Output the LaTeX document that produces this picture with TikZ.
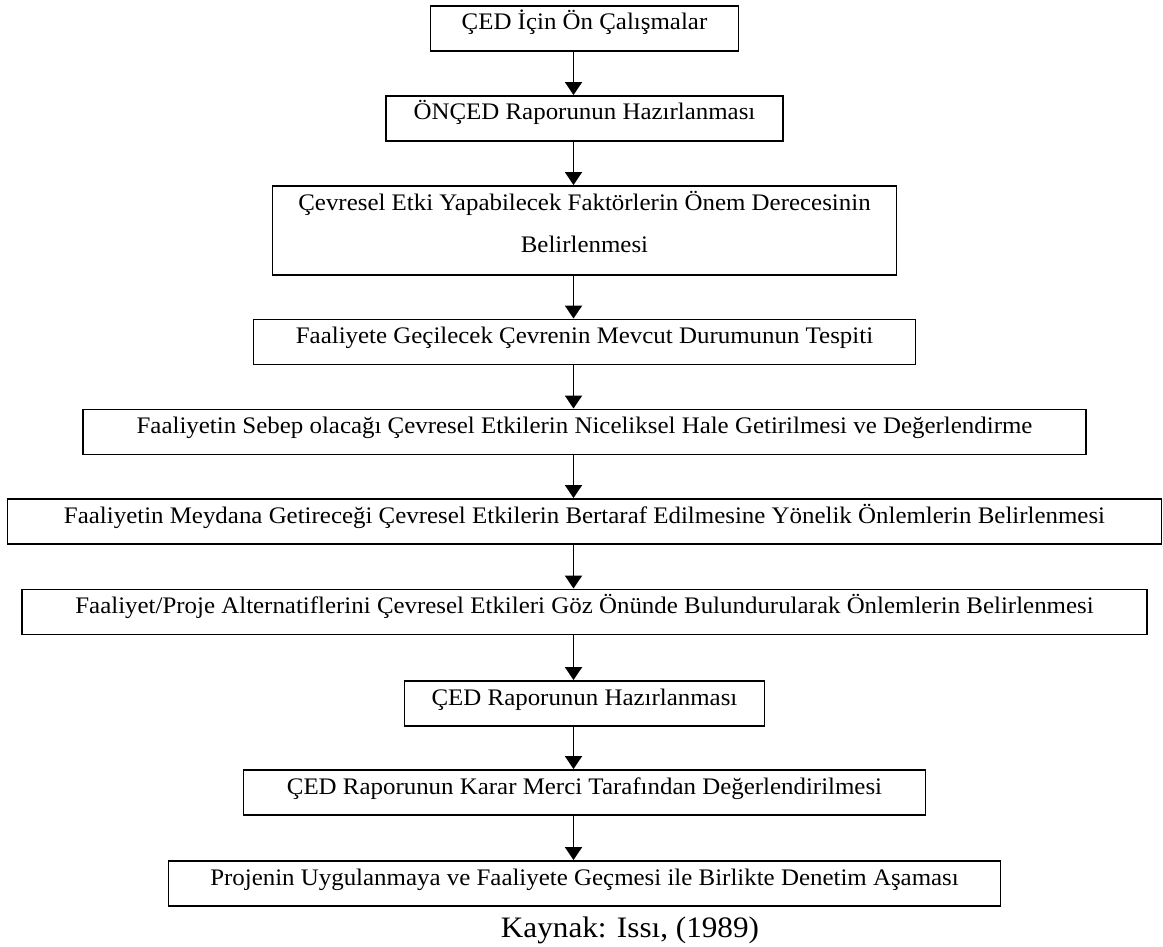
\documentclass[tikz,border=0pt]{standalone}
\usepackage{fontspec}
\setmainfont{Liberation Serif}[FakeStretch=1.05]
\usetikzlibrary{arrows.meta}

\tikzset{
  kutu/.style={draw, line width=1.1pt, inner ysep=0pt, align=center, font=\fontsize{13.5}{24.4}\selectfont},
  tek/.style={kutu, minimum height=0.9cm, text height=0.48cm, text depth=0.42cm},
  ok/.style={line width=1.1pt, -{Triangle[width=0.34cm,length=0.26cm]}}
}

\begin{document}
\begin{tikzpicture}
    \useasboundingbox (0,0) rectangle (23.26,-18.94);

    % Aşamalar
    \node[tek, minimum width=6.16cm] (k1) at (11.69,-0.57) {ÇED İçin Ön Çalışmalar};
    \node[tek, minimum width=7.94cm] (k2) at (11.69,-2.37) {ÖNÇED Raporunun Hazırlanması};
    \node[kutu, minimum width=12.48cm, minimum height=1.78cm, text height=1.34cm, text depth=0.44cm] (k3) at (11.69,-4.61) {Çevresel Etki Yapabilecek Faktörlerin Önem Derecesinin\\ Belirlenmesi};
    \node[tek, minimum width=13.24cm] (k4) at (11.69,-6.84) {Faaliyete Geçilecek Çevrenin Mevcut Durumunun Tespiti};
    \node[tek, minimum width=20.06cm] (k5) at (11.69,-8.64) {Faaliyetin Sebep olacağı Çevresel Etkilerin Niceliksel Hale Getirilmesi ve Değerlendirme};
    \node[tek, minimum width=23.08cm] (k6) at (11.69,-10.43) {Faaliyetin Meydana Getireceği Çevresel Etkilerin Bertaraf Edilmesine Yönelik Önlemlerin Belirlenmesi};
    \node[tek, minimum width=22.5cm] (k7) at (11.69,-12.24) {Faaliyet/Proje Alternatiflerini Çevresel Etkileri Göz Önünde Bulundurularak Önlemlerin Belirlenmesi};
    \node[tek, minimum width=7.2cm] (k8) at (11.69,-14.07) {ÇED Raporunun Hazırlanması};
    \node[tek, minimum width=13.64cm] (k9) at (11.69,-15.85) {ÇED Raporunun Karar Merci Tarafından Değerlendirilmesi};
    \node[tek, minimum width=16.64cm] (k10) at (11.69,-17.67) {Projenin Uygulanmaya ve Faaliyete Geçmesi ile Birlikte Denetim Aşaması};

    % Oklar
    \foreach \from/\to in {1/2,2/3,3/4,4/5,5/6,6/7,7/8,8/9,9/10} {
      \draw[ok] ([xshift=-0.22cm]k\from.south) -- ([xshift=-0.22cm]k\to.north);
    }

    % Kaynak
    \node[anchor=base, inner sep=0pt, font=\fontsize{16.9}{20}\selectfont] (kaynak) at (12.6,-18.74) {Kaynak: Issı, (1989)};
\end{tikzpicture}
\end{document}
